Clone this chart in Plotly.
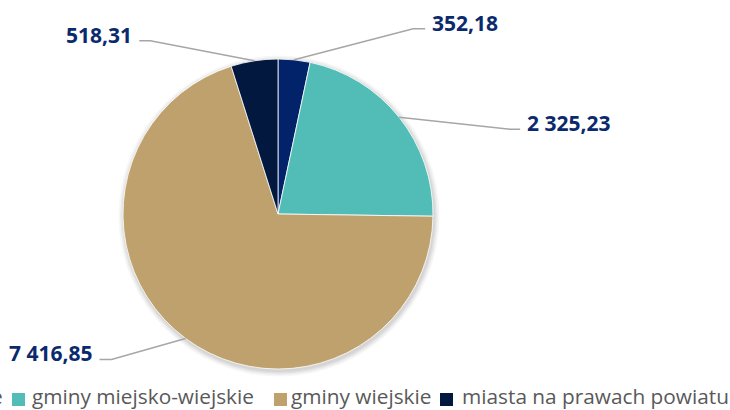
import math
import plotly.graph_objects as go

# ---- data ----
categories = ["gminy miejskie", "gminy miejsko-wiejskie", "gminy wiejskie", "miasta na prawach powiatu"]
values = [352.18, 2325.23, 7416.85, 518.31]
colors = ["#02226A", "#52BDB6", "#BFA16D", "#02183F"]

# ---- layout constants (pixels) ----
W, H = 730, 410
CX, CY, R = 278, 214, 155
LABEL_COLOR = "#0B2A6E"
LINE_COLOR = "#A6A6A6"
LEGEND_COLOR = "#595959"

# leader-line elbow offsets relative to slice edge point, and horizontal tail direction/length
elbow_offsets = [(119, -31), (111, 12), (-74, 21), (-104, -20)]
tail = [12, 10, -12, -11]
label_gap = 5
label_dy = -6

def px(x):
    return x / W

def py(y):
    return 1 - y / H

def fmt(v):
    s = f"{v:,.2f}"
    return s.replace(",", " ").replace(".", ",")

fig = go.Figure()
fig.add_trace(go.Pie(
    labels=categories,
    values=values,
    sort=False,
    direction="clockwise",
    rotation=0,
    marker=dict(colors=colors, line=dict(color="#FFFFFF", width=0.8)),
    textinfo="none",
    hoverinfo="label+value",
    showlegend=False,
    domain=dict(x=[px(CX - R), px(CX + R)], y=[py(CY + R), py(CY - R)]),
))

shapes = []
# soft shadow behind the pie
for i, op in enumerate([0.05, 0.05, 0.04, 0.03]):
    rr = R + 1 + i * 1.5
    shapes.append(dict(type="circle", xref="paper", yref="paper", layer="below",
                       x0=px(CX + 1 - rr), x1=px(CX + 1 + rr),
                       y0=py(CY + 2 + rr), y1=py(CY + 2 - rr),
                       fillcolor="rgba(0,0,0,1)", opacity=op, line=dict(width=0)))

annotations = []
total = sum(values)
cum = 0.0
for i, v in enumerate(values):
    mid = (cum + v / 2) / total * 2 * math.pi
    cum += v
    ex = CX + R * math.sin(mid)
    ey = CY - R * math.cos(mid)
    bx = ex + elbow_offsets[i][0]
    by = ey + elbow_offsets[i][1]
    tx = bx + tail[i]
    path = f"M {px(ex)} {py(ey)} L {px(bx)} {py(by)} L {px(tx)} {py(by)}"
    shapes.append(dict(type="path", xref="paper", yref="paper", path=path,
                       line=dict(color=LINE_COLOR, width=1.5)))
    right = tail[i] > 0
    annotations.append(dict(
        x=px(tx + (label_gap if right else -label_gap)), y=py(by + label_dy),
        xref="paper", yref="paper", showarrow=False,
        xanchor="left" if right else "right", yanchor="middle",
        text=f"<b>{fmt(v)}</b>",
        font=dict(family="Open Sans", size=21, color=LABEL_COLOR),
    ))

# ---- legend drawn as text + swatches ----
legend_text_x = [5, 30, 289, 460]      # text anchor (first item is cut off at the left edge)
legend_anchor = ["right", "left", "left", "left"]
legend_sq_x = [-14, 12, 274, 440]
LEG_Y = 396
SQ_Y = 399.5
SQ = 13
for i, name in enumerate(categories):
    shapes.append(dict(type="rect", xref="paper", yref="paper",
                       x0=px(legend_sq_x[i]), x1=px(legend_sq_x[i] + SQ),
                       y0=py(SQ_Y + SQ / 2), y1=py(SQ_Y - SQ / 2),
                       fillcolor=colors[i], line=dict(width=0)))
    annotations.append(dict(
        x=px(legend_text_x[i]), y=py(LEG_Y), xref="paper", yref="paper",
        showarrow=False, xanchor=legend_anchor[i], yanchor="middle",
        text=name, font=dict(family="Open Sans", size=20.8, color=LEGEND_COLOR),
    ))

fig.update_layout(
    width=W, height=H,
    margin=dict(l=0, r=0, t=0, b=0),
    paper_bgcolor="white", plot_bgcolor="white",
    shapes=shapes, annotations=annotations,
)

fig.write_html("out.html", config={"displayModeBar": False},
               post_script="document.body.style.margin='0';")
